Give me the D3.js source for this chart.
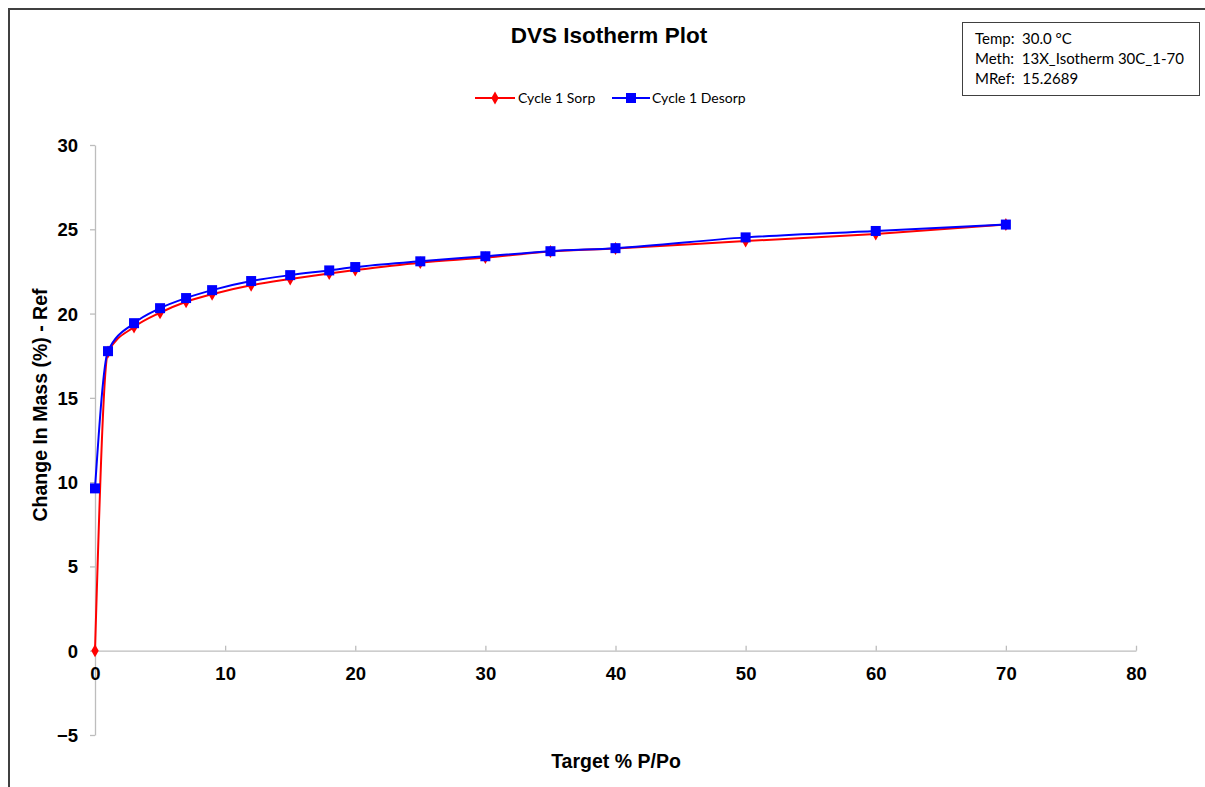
<!DOCTYPE html>
<html>
<head>
<meta charset="utf-8">
<script src="https://cdn.jsdelivr.net/npm/d3@7"></script>
<style>
  html, body { margin: 0; padding: 0; background: #fff; }
  svg { display: block; }
</style>
</head>
<body>
<svg id="chart" width="1205" height="787"></svg>
<script>
// Isotherm readings: target P/Po (%) and change in mass (%) relative to reference
const sorpX   = [0, 1, 3, 5, 7, 9, 12, 15, 18, 20, 25, 30, 35, 40, 50, 60, 70];
const sorpY   = [0, 17.72, 19.2, 20.05, 20.7, 21.15, 21.68, 22.05, 22.38, 22.58, 23.02, 23.32, 23.68, 23.86, 24.3, 24.72, 25.28];
const desorpX = [0, 1, 3, 5, 7, 9, 12, 15, 18, 20, 25, 30, 35, 40, 50, 60, 70];
const desorpY = [9.63, 17.77, 19.43, 20.32, 20.92, 21.39, 21.93, 22.28, 22.56, 22.76, 23.1, 23.4, 23.7, 23.88, 24.52, 24.9, 25.28];

const xTicks = [0, 10, 20, 30, 40, 50, 60, 70, 80];
const yTicks = [-5, 0, 5, 10, 15, 20, 25, 30];

const infoLines = ["Temp:  30.0 \u00B0C", "Meth:  13X_Isotherm 30C_1-70", "MRef:  15.2689"];
const seriesNames = ["Cycle 1 Sorp", "Cycle 1 Desorp"];

const svg = d3.select("#chart");
const boldFont = "Liberation Sans, Arial, sans-serif";
const lightFont = "Lato, 'Open Sans', sans-serif";

// outer chart frame
svg.append("path")
  .attr("d", "M9,787 V9 H1205")
  .attr("fill", "none").attr("stroke", "#404040").attr("stroke-width", 2);

const x = d3.scaleLinear().domain([0, 80]).range([95, 1136]);
const y = d3.scaleLinear().domain([-5, 30]).range([735, 145]);

const axisColor = "#bdbdbd";

// y axis
const yAxis = svg.append("g").attr("transform", `translate(${x(0)},0)`)
  .call(d3.axisLeft(y).tickValues(yTicks).tickSize(5).tickSizeOuter(0).tickFormat(d3.format("d")));
yAxis.select(".domain").attr("stroke", axisColor).attr("stroke-width", 1.3);
yAxis.selectAll(".tick line").attr("stroke", axisColor).attr("stroke-width", 1.3);
yAxis.selectAll(".tick text")
  .attr("x", -17).attr("dy", "0.35em")
  .attr("font-family", boldFont)
  .attr("font-size", 18.5).attr("font-weight", "bold").attr("fill", "#000");

// x axis at y = 0, ticks pointing up
const xAxis = svg.append("g").attr("transform", `translate(0,${y(0)})`)
  .call(d3.axisBottom(x).tickValues(xTicks).tickSize(-5).tickSizeOuter(0).tickFormat(d3.format("d")));
xAxis.select(".domain").attr("stroke", axisColor).attr("stroke-width", 1.3);
xAxis.selectAll(".tick line").attr("stroke", axisColor).attr("stroke-width", 1.3);
xAxis.selectAll(".tick text")
  .attr("y", 16).attr("dy", "0.71em")
  .attr("font-family", boldFont)
  .attr("font-size", 18.5).attr("font-weight", "bold").attr("fill", "#000");

// titles
svg.append("text").attr("x", 609).attr("y", 43).attr("text-anchor", "middle")
  .attr("font-family", boldFont).attr("font-weight", "bold")
  .attr("font-size", 22.5).text("DVS Isotherm Plot");

svg.append("text").attr("x", 616).attr("y", 768).attr("text-anchor", "middle")
  .attr("font-family", boldFont).attr("font-weight", "bold")
  .attr("font-size", 19.5).text("Target % P/Po");

svg.append("text").attr("transform", "translate(47,405) rotate(-90)").attr("text-anchor", "middle")
  .attr("font-family", boldFont).attr("font-weight", "bold")
  .attr("font-size", 19.5).text("Change In Mass (%) - Ref");

// info box
svg.append("rect").attr("x", 962.5).attr("y", 22.5).attr("width", 237).attr("height", 73)
  .attr("fill", "#fff").attr("stroke", "#404040").attr("stroke-width", 1);
svg.append("g").selectAll("text").data(infoLines).join("text")
  .attr("x", 975).attr("y", (d, i) => 44 + i * 20)
  .attr("font-family", lightFont).attr("font-size", 15)
  .attr("fill", "#000").attr("xml:space", "preserve").style("white-space", "pre").text(d => d);

// series, smoothed through every reading without overshoot
const line = d3.line().x(d => x(d[0])).y(d => y(d[1])).curve(d3.curveMonotoneX);
const sorp = sorpX.map((v, i) => [v, sorpY[i]]);
const desorp = desorpX.map((v, i) => [v, desorpY[i]]);

const diamond = d3.symbol().type(d3.symbolDiamond).size(48);

svg.append("path").datum(sorp).attr("d", line)
  .attr("fill", "none").attr("stroke", "#ff0000").attr("stroke-width", 2);
svg.append("g").selectAll("path").data(sorp).join("path")
  .attr("d", diamond).attr("transform", d => `translate(${x(d[0])},${y(d[1])})`)
  .attr("fill", "#ff0000");

svg.append("path").datum(desorp).attr("d", line)
  .attr("fill", "none").attr("stroke", "#0000ff").attr("stroke-width", 2);
svg.append("g").selectAll("rect").data(desorp).join("rect")
  .attr("x", d => x(d[0]) - 5).attr("y", d => y(d[1]) - 5)
  .attr("width", 10).attr("height", 10).attr("fill", "#0000ff");

// legend
const legend = svg.append("g");
legend.append("line").attr("x1", 475).attr("x2", 515).attr("y1", 98).attr("y2", 98)
  .attr("stroke", "#ff0000").attr("stroke-width", 2);
legend.append("path").attr("d", diamond).attr("transform", "translate(495,98)").attr("fill", "#ff0000");
legend.append("text").attr("x", 518).attr("y", 103).attr("font-family", lightFont)
  .attr("font-size", 14).text(seriesNames[0]);
legend.append("line").attr("x1", 612).attr("x2", 650).attr("y1", 98).attr("y2", 98)
  .attr("stroke", "#0000ff").attr("stroke-width", 2);
legend.append("rect").attr("x", 626).attr("y", 93).attr("width", 10).attr("height", 10).attr("fill", "#0000ff");
legend.append("text").attr("x", 652).attr("y", 103).attr("font-family", lightFont)
  .attr("font-size", 14).text(seriesNames[1]);
</script>
</body>
</html>
